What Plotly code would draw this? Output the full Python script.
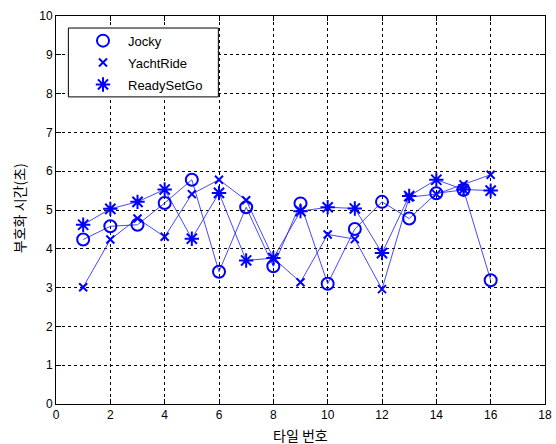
import plotly.graph_objects as go

tiles = list(range(1, 17))
jocky = [4.24, 4.58, 4.62, 5.18, 5.78, 3.41, 5.07, 3.55, 5.17, 3.10, 4.51, 5.21, 4.78, 5.43, 5.52, 3.19]
yachtride = [3.01, 4.24, 4.78, 4.31, 5.41, 5.78, 5.25, 3.76, 3.14, 4.37, 4.25, 2.96, 5.33, 5.41, 5.66, 5.91]
readysetgo = [4.62, 5.03, 5.21, 5.53, 4.26, 5.44, 3.70, 3.76, 4.97, 5.07, 5.04, 3.89, 5.36, 5.78, 5.53, 5.50]

names = ["Jocky", "YachtRide", "ReadySetGo"]
series = [jocky, yachtride, readysetgo]
symbols = ["circle-open", "x-thin-open", "asterisk-open"]
sizes = [12, 8, 12]

BLUE = "#0000ff"
fig = go.Figure()
for name, ys in zip(names, series):
    fig.add_trace(go.Scatter(x=tiles, y=ys, mode="lines", showlegend=False,
                             line=dict(color="rgba(40,40,255,0.85)", width=1), hoverinfo="skip"))
for name, ys, sym, sz in zip(names, series, symbols, sizes):
    fig.add_trace(go.Scatter(x=tiles, y=ys, mode="markers", name=name, legendgroup=name,
                             marker=dict(symbol=sym, size=sz, color=BLUE,
                                         line=dict(color=BLUE, width=2))))

axis_common = dict(showline=True, linecolor="black", linewidth=1, mirror="ticks",
                   ticks="inside", ticklen=5, tickcolor="black",
                   showgrid=True, gridcolor="black", gridwidth=1, griddash="3px,3px",
                   zeroline=False, automargin=False,
                   tickfont=dict(family="Liberation Sans", size=12, color="black"))

fig.update_xaxes(range=[0, 18], dtick=2, tick0=0, **axis_common)
fig.update_yaxes(range=[0, 10], dtick=1, tick0=0, **axis_common)

fig.add_annotation(text="타일 번호", xref="paper", yref="paper", x=0.499, y=-0.0805,
                   yanchor="middle", xanchor="center", showarrow=False,
                   font=dict(family="Noto Sans CJK KR", size=14, color="black"))
fig.add_annotation(text="부호화 시간(초)", xref="paper", yref="paper", x=-0.0755, y=0.505,
                   xanchor="center", yanchor="middle", textangle=-90, showarrow=False,
                   font=dict(family="Noto Sans CJK KR", size=14, color="black"))

fig.add_shape(type="rect", xref="paper", yref="paper", x0=0.0253, x1=0.332, y0=0.7915, y1=0.969,
              line=dict(color="black", width=1), fillcolor="white", layer="above")

fig.update_layout(
    width=556, height=444,
    margin=dict(l=56, r=11, t=16, b=40),
    plot_bgcolor="white", paper_bgcolor="white",
    legend=dict(x=0.045, y=0.975, xanchor="left", yanchor="top",
                bgcolor="rgba(0,0,0,0)", borderwidth=0, itemwidth=40,
                tracegroupgap=2, traceorder="grouped",
                font=dict(family="Liberation Sans", size=13, color="black")),
)

fig.write_html("out.html", config={"displayModeBar": False},
               post_script="document.body.style.margin='0';document.body.style.overflow='hidden';")
